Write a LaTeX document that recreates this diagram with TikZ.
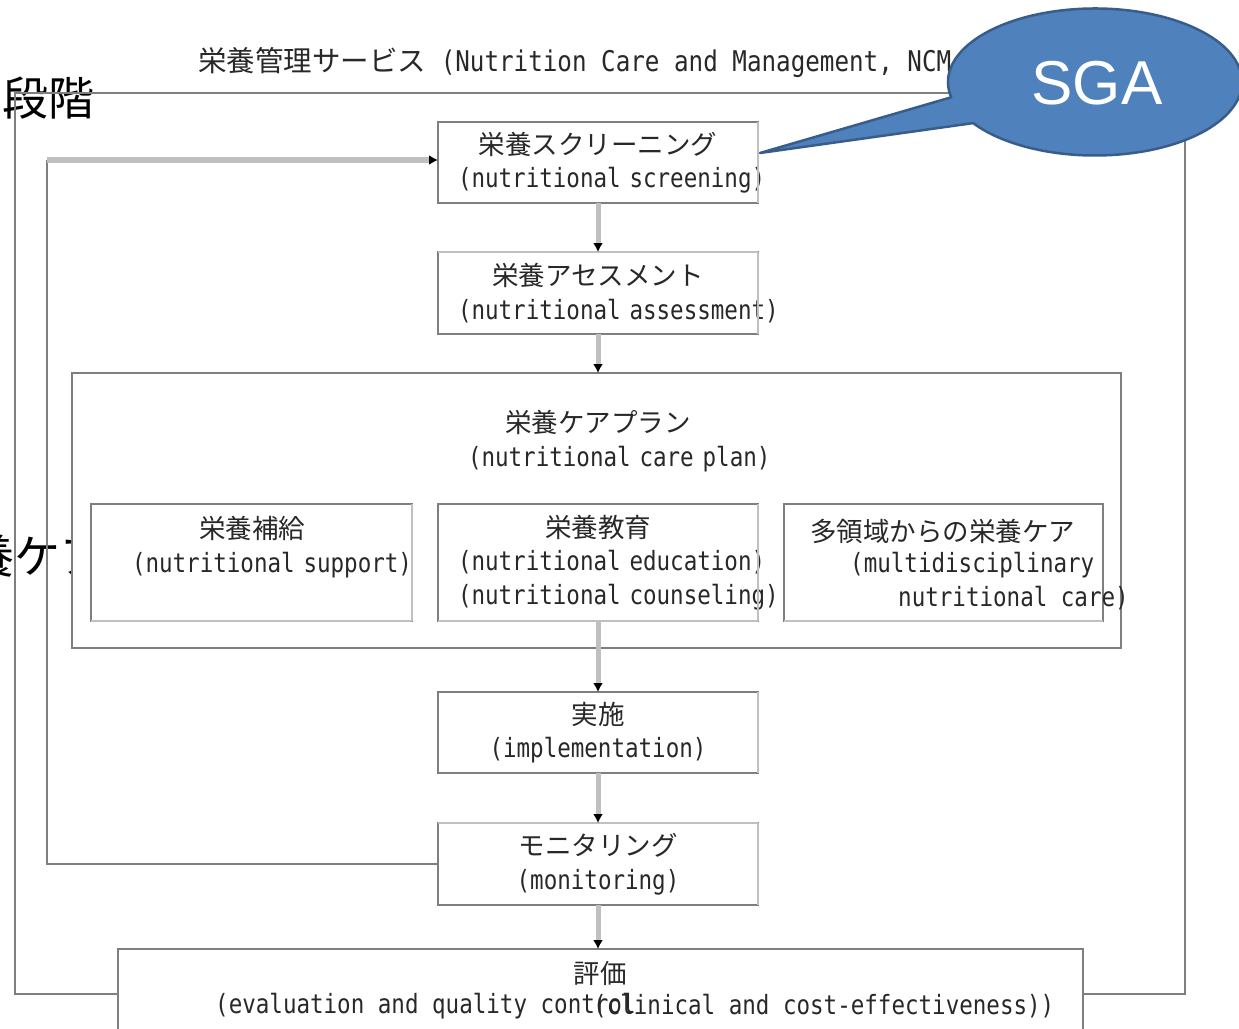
\documentclass[tikz,border=0pt]{standalone}
\usepackage{fontspec}
\usetikzlibrary{arrows.meta}
\newfontfamily\jp{Noto Sans CJK JP}
\newfontfamily\en[FakeStretch=0.85]{DejaVu Sans Mono}
\newfontfamily\arialf{Liberation Sans}
\definecolor{dgray}{HTML}{7F7F7F}
\definecolor{lgray}{HTML}{C0C0C0}
\definecolor{sgafill}{HTML}{4F81BD}
\definecolor{sgadraw}{HTML}{385D8A}
\definecolor{txt}{HTML}{282828}
\newcommand\jpen[2]{\mbox{\jp #1}\\\mbox{\en #2}}
\begin{document}
\begin{tikzpicture}[x=1pt,y=1pt,
  box/.style={draw=dgray,line width=2.6pt,fill=white,inner sep=0pt,outer sep=0pt,align=center,text width=280pt,text=txt,font=\fontsize{26.5}{33.5}\selectfont},
  lr/.style={append after command={(\tikzlastnode.north east) edge[draw=lgray,line width=2.6pt] (\tikzlastnode.south east)}},
  lb/.style={append after command={(\tikzlastnode.south west) edge[draw=lgray,line width=2.6pt] (\tikzlastnode.south east)}},
  lt/.style={append after command={(\tikzlastnode.north west) edge[draw=lgray,line width=2.6pt] (\tikzlastnode.north east)}},
  lbl/.style={inner sep=0pt,text=txt,font=\fontsize{26.5}{33.5}\selectfont},
  conn/.style={draw=lgray,line width=5pt,-{Latex[length=9pt,width=10pt,color=black]}},
  dk/.style={draw=dgray,line width=2.8pt},
  big/.style={inner sep=0pt,text=black,font=\jp\fontsize{46}{46}\selectfont}
]
\useasboundingbox (0,0) rectangle (1239,-1028);
\fill[white] (0,0) rectangle (1239,-1028);

% background texts (partly hidden)
\node[big,anchor=east] (stage) at (95,-98) {段階};
\node[big,anchor=east] (care) at (107,-556) {栄養ケア};

% title
\node[lbl,anchor=west,font=\fontsize{28.5}{30}\selectfont] (title) at (198,-63)
  {{\jp 栄養管理サービス}{\en\ (Nutrition Care and Management, NCM}};

% outer frame
\draw[dk] (15,-93) rectangle (1185,-994);

% boxes
\node[box,lr,minimum width=320,minimum height=81] (scr) at (598,-162.5)
  {\jpen{栄養スクリーニング}{(nutritional screening)}};
\node[box,lt,lr,minimum width=320,minimum height=82] (asm) at (598,-293)
  {\jpen{栄養アセスメント}{(nutritional assessment)}};
\node[box,text width=0pt,minimum width=1049,minimum height=275] (cp) at (596.5,-510.5) {};
\node[lbl,align=center,text width=260pt] (cpt) at (598,-441) {\jpen{栄養ケアプラン}{(nutritional care plan)}};
\node[box,lr,lb,text width=0pt,minimum width=321,minimum height=117] (sup) at (251.5,-562.5) {};
\node[lbl,align=center,text width=240pt] (supt) at (252,-547) {\jpen{栄養補給}{(nutritional support)}};
\node[box,lr,lb,minimum width=320,minimum height=117] (edu) at (598,-562.5)
  {\mbox{\jp 栄養教育}\\\mbox{\en (nutritional education)}\\\mbox{\en (nutritional counseling)}};
\node[box,lb,text width=0pt,minimum width=319,minimum height=117] (mul) at (943.5,-562.5) {};
\node[lbl,anchor=west] (m1) at (810,-531) {\jp 多領域からの栄養ケア};
\node[lbl,anchor=west] (m2) at (850,-565) {\en (multidisciplinary};
\node[lbl,anchor=west] (m3) at (898,-598) {\en nutritional care)};
\node[box,lr,minimum width=320,minimum height=81] (imp) at (598,-732.5)
  {\jpen{実施}{(implementation)}};
\node[box,lt,lr,minimum width=320,minimum height=82] (mon) at (598,-864)
  {\jpen{モニタリング}{(monitoring)}};
\node[box,text width=0pt,anchor=north west,minimum width=965,minimum height=100] (ev) at (118,-949) {};
\node[lbl] (evj) at (600,-973) {\jp 評価};
\node[lbl,anchor=west] (eve1) at (215,-1006) {\en (evaluation and quality control};
\node[lbl,anchor=west] (eve2) at (593,-1006) {\en (clinical and cost-effectiveness))};

% connectors
\draw[conn] (scr.south) -- (asm.north);
\draw[conn] (asm.south) -- (asm.south |- cp.north);
\draw[conn] (edu.south) -- (imp.north);
\draw[conn] (imp.south) -- (mon.north);
\draw[conn] (mon.south) -- (mon.south |- ev.north);
\coordinate (fbt) at (47,-160);
\draw[dk] (mon.west) -| (fbt);
\draw[draw=lgray,line width=5.5pt,-{Latex[length=9pt,width=10pt,color=black]}] (fbt) -- (scr.west |- fbt);

% SGA callout
\coordinate (tip) at (760,-153);
\filldraw[fill=sgafill,draw=sgadraw,line width=2.5pt,line join=round]
  (tip) -- ([shift={(1095,-82)}]192:147pt and 73.5pt)
  arc[start angle=192,end angle=-146,x radius=147pt,y radius=73.5pt] -- cycle;
\node[text=white,inner sep=0pt,font=\arialf\fontsize{62}{62}\selectfont] (sga) at (1097,-83) {SGA};
\end{tikzpicture}
\end{document}
